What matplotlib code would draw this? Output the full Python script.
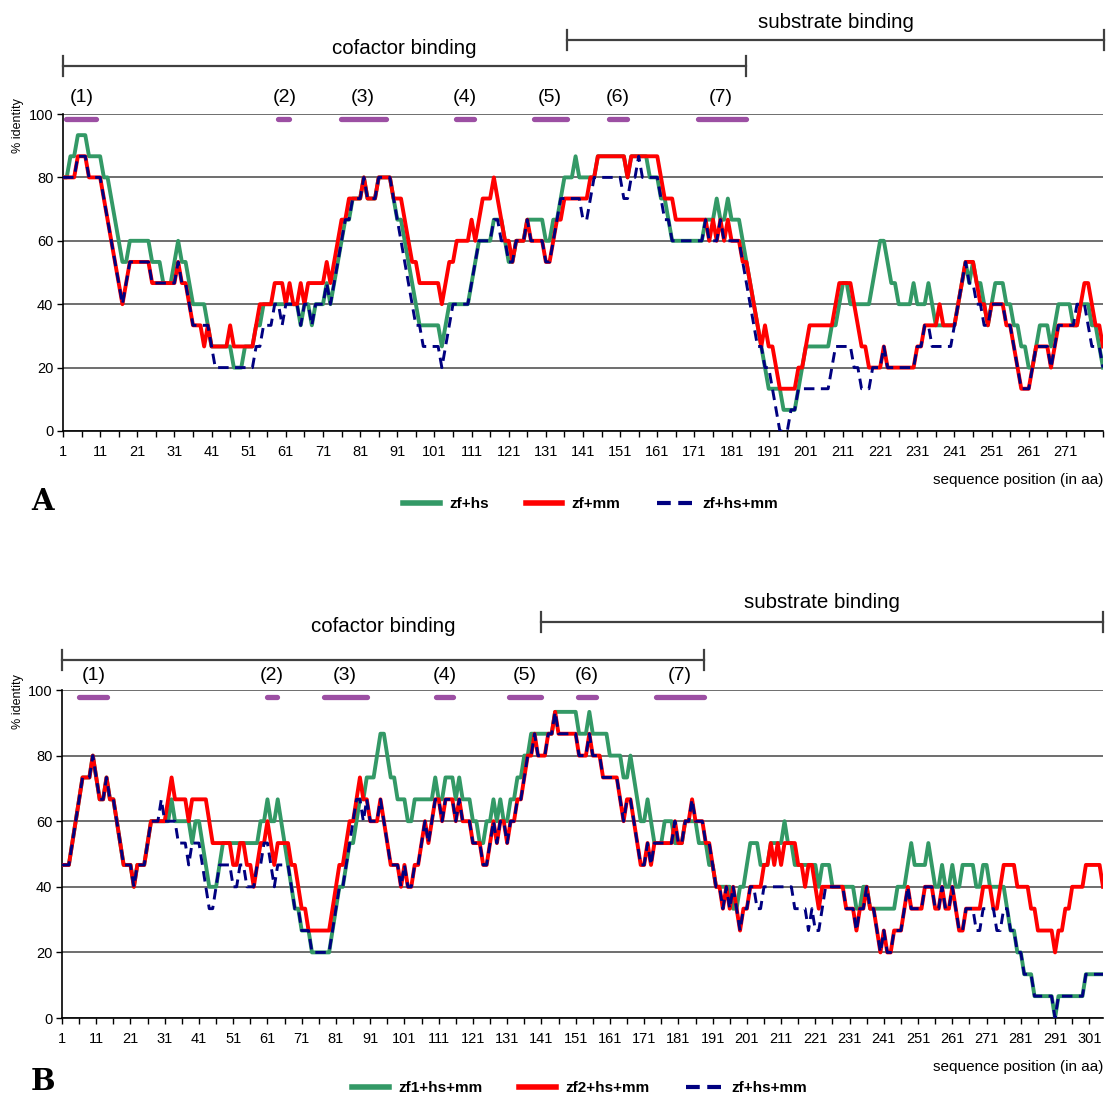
import matplotlib
matplotlib.use('Agg')
import matplotlib.pyplot as plt
from matplotlib import font_manager
from matplotlib.lines import Line2D
import numpy as np

W, H = 1109, 1095

# % identity in a sliding window of 15 aa.
# one hex digit per sequence position = number of identical residues out of 15
a_zf_hs = ("ccddeeeddd" "dccba98899" "9999888777" "8988766665" "4444443334"
           "4455666666" "6666566566" "676789aabb" "bcbbbccccb" "aa98765555"
           "5545666666" "789999aaa9" "88999aaaaa" "99aabcccdc" "ccccdddddd"
           "ddcdddddcc" "cbba999999" "999aaabaab" "aaa9876543" "2222111123"
           "4444444556" "7766666678" "9987766667" "6667655555" "5678787765"
           "6777665544" "3345554566" "6655666554" "3")
a_zf_mm = ("ccccdddccc" "cba9876788" "8888777777" "7877655545" "4444454444"
           "4456666777" "6766767777" "78789aabbb" "bcbbbccccb" "bba9887777"
           "7767889999" "a9abbbcba9" "98999a9999" "889aabbbbb" "bbccdddddd"
           "ddcddddddd" "dcbbbaaaaa" "aaaa9a9a9a" "9998876545" "4432222233"
           "4555555567" "7776544333" "3433333333" "4455556555" "5678887665"
           "6666554322" "2344443455" "5555677655" "4")
a_zf_hs_mm = ("ccccdddccc" "cba9876788" "8888777777" "7877655555" "4333333333"
              "3344555665" "6666566566" "676789aabb" "bcbbbccccb" "a987655444"
              "4434566666" "789999aa99" "88999a9999" "889abbbbbb" "aabccccccc"
              "cbbccdcccc" "cbaa999999" "999a999a99" "9998765443" "3210001122"
              "2222222344" "4443322233" "3433333333" "4455444444" "5678776655"
              "6666554322" "2344443455" "5556665444" "3")

b_zf1_hs_mm = ("77789abbbc" "baabaa9877" "7677789999" "99a9999989" "9876667888"
               "8888888899" "a99a987655" "4443333334" "5667889aab" "bbcddcbbaa"
               "a99aaaaaab" "aabbbabaaa" "998899a9a9" "9aabbccddd" "ddddeeeeee"
               "edddeddddd" "ccccbbcba9" "9a98889998" "8899998887" "7666665566"
               "7888777888" "8988777777" "7677766666" "6655665555" "5555666787"
               "7778766766" "7667777667" "7666665443" "3222111111" "0111111112"
               "22222")
b_zf2_hs_mm = ("77789abbbc" "baabaa9877" "7677789999" "9abaaaa9aa" "aaa9888888"
               "7788776788" "9878888776" "5544444445" "677899abaa" "999a987776"
               "766778989a" "a9aaa9a999" "8887789899" "899aabccdc" "ccddeddddd"
               "dcccdcccbb" "bbba9aa987" "7878888889" "8899a99988" "7665656545"
               "5666677878" "7888877677" "6566666665" "5545565543" "4334445655"
               "5566655655" "6544555556" "6655677776" "6665544444" "3445566667"
               "77776")
b_zf_hs_mm = ("77789abbbc" "baabaa9877" "767778999a" "9999888788" "8765567777"
              "6677666778" "8767777655" "4443333334" "566789aa9a" "999a987776"
              "766778989a" "a9aaa9a999" "8887789899" "899aabccdc" "ccddeddddd"
              "dcccdcccbb" "bbba9aa987" "7878888889" "8899a99988" "7665656545"
              "5665566666" "6666555545" "4456666665" "5545565543" "4334445655"
              "5566655655" "6544555445" "5554455443" "3222111111" "0111111112"
              "22222")

a_labels = ['zf+hs', 'zf+mm', 'zf+hs+mm']
b_labels = ['zf1+hs+mm', 'zf2+hs+mm', 'zf+hs+mm']

motif_names = ['(1)', '(2)', '(3)', '(4)', '(5)', '(6)', '(7)']
a_motif_start = [1.8, 58.9, 75.9, 106.7, 127.7, 147.9, 171.9]
a_motif_end = [10.0, 61.9, 87.9, 111.6, 136.6, 152.8, 184.8]
a_motif_mid = [6.1, 60.6, 81.7, 109.2, 132.1, 150.4, 178.2]
b_motif_start = [5.9, 60.8, 77.6, 110.2, 131.4, 151.8, 174.6]
b_motif_end = [14.2, 63.8, 90.1, 115.3, 140.8, 156.9, 188.5]
b_motif_mid = [10.3, 62.3, 83.6, 112.8, 136.1, 154.2, 181.3]

a_cofactor = (1, 185)
a_substrate = (136.7, 281.4)
b_cofactor = (1, 188.6)
b_substrate = (140.8, 305)

GREEN = '#339966'
RED = '#ff0000'
NAVY = '#000080'
PURPLE = '#9c4fa3'

names = {f.name for f in font_manager.fontManager.ttflist}
NARROW = 'Liberation Sans Narrow' if 'Liberation Sans Narrow' in names else 'Liberation Sans'
SANS = 'Liberation Sans'


def to_pct(s):
    return np.array([int(c, 16) for c in s]) * 100 / 15


def rect(left, top, right, bottom):
    return [left / W, 1 - bottom / H, (right - left) / W, (bottom - top) / H]


def draw_panel(fig, box, series, labels, last_label, motif_start, motif_end, motif_mid,
               cofactor, substrate, px_per_pct, brackets, motif_dy, letter, letter_y,
               legend_x, legend_y):
    ax = fig.add_axes(rect(*box))
    y_top_px = box[1]
    n = len(series[0])
    x = np.arange(1, n + 1)
    ax.plot(x, to_pct(series[0]), color=GREEN, lw=2.8, zorder=3)
    ax.plot(x, to_pct(series[1]), color=RED, lw=2.8, zorder=4)
    ax.plot(x, to_pct(series[2]), color=NAVY, lw=2.1, dashes=(3.6, 2.2), zorder=5)

    ax.set_xlim(1, n)
    ax.set_ylim(0, 100)
    ax.set_yticks([0, 20, 40, 60, 80, 100])
    ticks = np.arange(1, n + 1, 5)
    ax.set_xticks(ticks)
    ax.set_xticklabels([str(v) if (v - 1) % 10 == 0 and v <= last_label else '' for v in ticks])
    ax.tick_params(axis='x', length=4, width=1, pad=6, labelsize=10.5)
    ax.tick_params(axis='y', length=4, width=1, pad=3, labelsize=10.5)
    for lab in ax.get_xticklabels() + ax.get_yticklabels():
        lab.set_family(NARROW)
    ax.grid(axis='y', color='#555555', lw=1.2, zorder=1)
    for side in ['top', 'right']:
        ax.spines[side].set_visible(False)
    ax.spines['left'].set_linewidth(1.2)
    ax.spines['bottom'].set_linewidth(1.2)

    # pixel row above the axis top -> % units
    def y_at(px):
        return 100 + (y_top_px - px) / px_per_pct

    # motif bars and their numbers
    bar_dy, text_dy = motif_dy
    for s, e, m, name in zip(motif_start, motif_end, motif_mid, motif_names):
        ax.plot([s, e], [y_at(y_top_px + bar_dy)] * 2, color=PURPLE, lw=3.8,
                solid_capstyle='round', clip_on=False, zorder=6)
        ax.text(m, y_at(y_top_px - text_dy), name, ha='center', va='center',
                fontsize=14, family=SANS)

    # domain brackets
    (cof_dy, cof_tdy), (sub_dy, sub_tdy) = brackets
    for (s, e), dy, tdy, name in [(cofactor, cof_dy, cof_tdy, 'cofactor binding'),
                                  (substrate, sub_dy, sub_tdy, 'substrate binding')]:
        yl = y_at(y_top_px - dy)
        cap = 10 / px_per_pct
        ax.plot([s, e], [yl, yl], color='#404040', lw=1.6, clip_on=False)
        ax.plot([s, s], [yl - cap, yl + cap], color='#404040', lw=1.6, clip_on=False)
        ax.plot([e, e], [yl - cap, yl + cap], color='#404040', lw=1.6, clip_on=False)
        ax.text((s + e) / 2, yl + tdy / px_per_pct, name, ha='center', va='center',
                fontsize=14.8, family=SANS)

    left, top, right, bottom = box
    fig.text(18 / W, 1 - (top + 12) / H, '% identity', rotation=90, ha='center',
             va='center', fontsize=9, family=SANS)
    fig.text(right / W, 1 - (bottom + 49) / H, 'sequence position (in aa)', ha='right',
             va='center', fontsize=11, family=NARROW)
    fig.text(43 / W, 1 - letter_y / H, letter, ha='center', va='center', fontsize=21,
             fontweight='bold', family='DejaVu Serif')

    handles = [Line2D([], [], color=GREEN, lw=4),
               Line2D([], [], color=RED, lw=4),
               Line2D([], [], color=NAVY, lw=3, dashes=(3.3, 1.8))]
    fig.legend(handles, labels, loc='center', bbox_to_anchor=(legend_x / W, 1 - legend_y / H),
               ncol=3, frameon=False, handlelength=2.4, columnspacing=2.4, handletextpad=0.6,
               prop={'family': NARROW, 'weight': 'bold', 'size': 11})
    return ax


fig = plt.figure(figsize=(W / 100, H / 100), dpi=100)

draw_panel(fig, (63, 114, 1103, 431), [a_zf_hs, a_zf_mm, a_zf_hs_mm], a_labels, 271,
           a_motif_start, a_motif_end, a_motif_mid, a_cofactor, a_substrate,
           3.17, ((48, 18), (74, 18)), (5, 16), 'A', 502, 591, 504)
draw_panel(fig, (62, 690, 1103, 1018), [b_zf1_hs_mm, b_zf2_hs_mm, b_zf_hs_mm], b_labels, 301,
           b_motif_start, b_motif_end, b_motif_mid, b_cofactor, b_substrate,
           3.28, ((30, 33), (68, 19)), (7, 14), 'B', 1082, 580, 1088)

fig.savefig('out.png', dpi=100)
plt.close(fig)
